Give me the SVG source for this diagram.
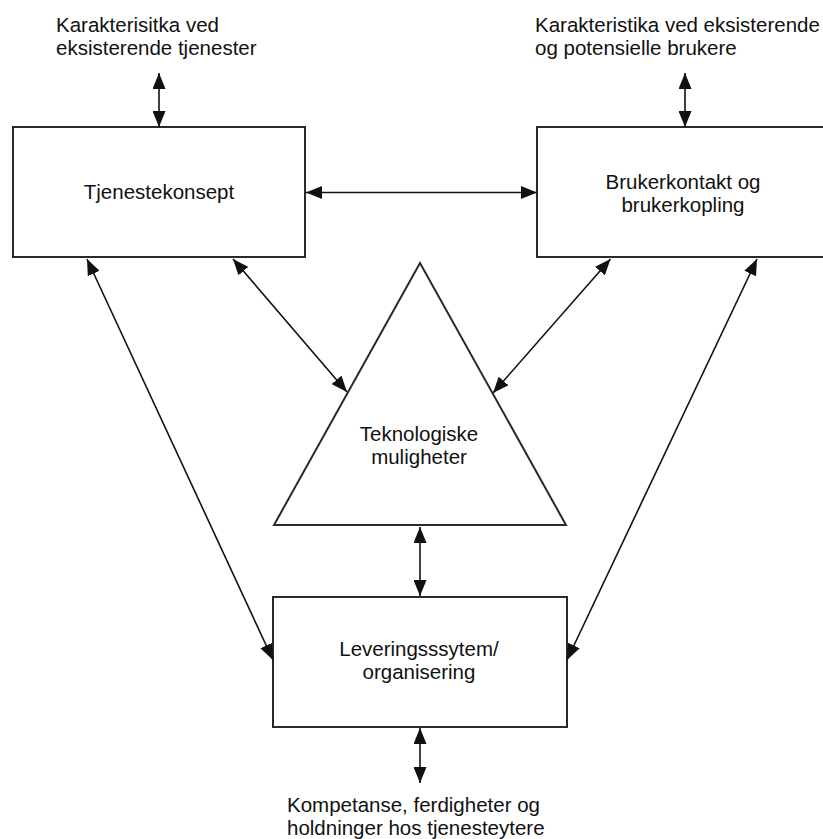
<svg xmlns="http://www.w3.org/2000/svg" width="823" height="839" viewBox="0 0 823 839">
<defs>
<marker id="ah" viewBox="0 0 16 13" refX="16" refY="6.5" markerWidth="16" markerHeight="13" markerUnits="userSpaceOnUse" orient="auto-start-reverse">
<path d="M0,0 L16,6.5 L0,13 z" fill="#111"/>
</marker>
<style>
.box{fill:#fff;stroke:#2a2a2a;stroke-width:2}
.lbl{font-family:"Liberation Sans",Arial,Helvetica,sans-serif;font-size:20.5px;fill:#111}
.c{text-anchor:middle}
.con line{stroke:#111;stroke-width:1.6;marker-start:url(#ah);marker-end:url(#ah)}
</style>
</defs>
<rect width="823" height="839" fill="#fff"/>
<g id="ext-tjenester">
<text class="lbl" x="56" y="32">Karakterisitka ved</text>
<text class="lbl" x="56" y="55">eksisterende tjenester</text>
</g>
<g id="ext-brukere">
<text class="lbl" x="535" y="32">Karakteristika ved eksisterende</text>
<text class="lbl" x="535" y="55">og potensielle brukere</text>
</g>
<g id="tjenestekonsept">
<rect class="box" x="13" y="127" width="292" height="130"/>
<text class="lbl c" x="159" y="199">Tjenestekonsept</text>
</g>
<g id="brukerkontakt">
<rect class="box" x="537" y="127" width="292" height="130"/>
<text class="lbl c" x="683" y="189">Brukerkontakt og</text>
<text class="lbl c" x="683" y="212">brukerkopling</text>
</g>
<g id="teknologi">
<polygon class="box" points="420,263 274,525 566,525" stroke-width="1.8"/>
<text class="lbl c" x="419" y="441">Teknologiske</text>
<text class="lbl c" x="419" y="464">muligheter</text>
</g>
<g id="levering">
<rect class="box" x="273" y="597" width="294" height="130"/>
<text class="lbl c" x="419" y="656">Leveringsssytem/</text>
<text class="lbl c" x="419" y="679">organisering</text>
</g>
<g id="ext-kompetanse">
<text class="lbl" x="287" y="812">Kompetanse, ferdigheter og</text>
<text class="lbl" x="287" y="835">holdninger hos tjenesteytere</text>
</g>
<g id="connectors" class="con">
<line x1="159" y1="73" x2="159" y2="127"/>
<line x1="685" y1="73" x2="685" y2="127"/>
<line x1="306" y1="192.5" x2="537" y2="192.5"/>
<line x1="233" y1="259" x2="347" y2="392"/>
<line x1="610.5" y1="259" x2="493" y2="393"/>
<line x1="87" y1="259" x2="273" y2="660"/>
<line x1="757" y1="259" x2="567" y2="660"/>
<line x1="420" y1="527" x2="420" y2="596"/>
<line x1="420" y1="728" x2="420" y2="783"/>
</g>
</svg>
